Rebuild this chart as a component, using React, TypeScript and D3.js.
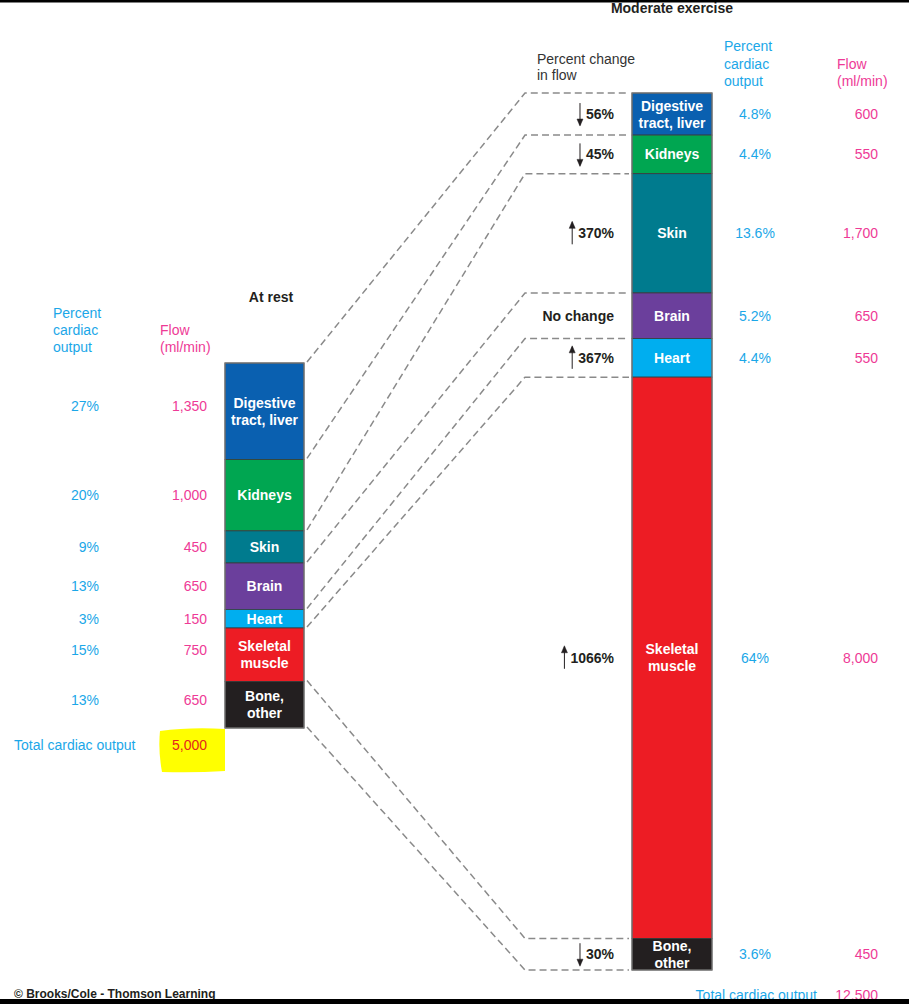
import React from "react";
import * as d3 from "d3";

// bar segments, top to bottom
const barLabels = [
  ["Digestive", "tract, liver"],
  ["Kidneys"],
  ["Skin"],
  ["Brain"],
  ["Heart"],
  ["Skeletal", "muscle"],
  ["Bone,", "other"],
];
const segmentColors = ["#0a60b0", "#00a651", "#007b8e", "#6b3f9c", "#00aeef", "#ed1c24", "#231f20"];

const restFlow = [1350, 1000, 450, 650, 150, 750, 650];
const restPercent = ["27%", "20%", "9%", "13%", "3%", "15%", "13%"];
const restTotal = 5000;

const exerciseFlow = [600, 550, 1700, 650, 550, 8000, 450];
const exercisePercent = ["4.8%", "4.4%", "13.6%", "5.2%", "4.4%", "64%", "3.6%"];
const exerciseTotal = 12500;

const changeText = ["56%", "45%", "370%", "No change", "367%", "1066%", "30%"];
const changeDir = [-1, -1, 1, 0, 1, 1, -1];

const BLUE = "#1ba7e8";
const PINK = "#ee3a96";
const FONT = "'Liberation Sans', Arial, Helvetica, sans-serif";
const fmt = d3.format(",");

// boundaries of a stacked bar; small segments get a minimum size so labels fit
function stackBounds(values: number[], minValue: number, range: [number, number]) {
  const shown = values.map((v) => Math.max(v, minValue));
  const cum = [0, ...Array.from(d3.cumsum(shown))];
  const y = d3.scaleLinear([0, cum[cum.length - 1]], range);
  return cum.map(y);
}

function boldWidth(s: string, fs: number) {
  let w = 0;
  for (const c of s) w += c === "%" ? 0.889 : 0.556;
  return w * fs;
}

function Bar({ x, w, bounds }: { x: number; w: number; bounds: number[] }) {
  return (
    <g>
      {bounds.slice(0, -1).map((b, i) => (
        <rect key={i} x={x} y={b} width={w} height={bounds[i + 1] - b} fill={segmentColors[i]} stroke="#3a3a3a" strokeWidth={0.8} />
      ))}
      <rect x={x} y={bounds[0]} width={w} height={bounds[bounds.length - 1] - bounds[0]} fill="none" stroke="#7a7a7a" strokeWidth={1.2} />
      {bounds.slice(0, -1).map((b, i) => {
        const cy = (b + bounds[i + 1]) / 2;
        const lines = barLabels[i];
        return (
          <text key={i} x={x + w / 2} textAnchor="middle" fill="#fff" fontWeight="bold" fontSize={14} fontFamily={FONT}>
            {lines.map((l, j) => (
              <tspan key={j} x={x + w / 2} y={cy + 5 + (j - (lines.length - 1) / 2) * 17}>{l}</tspan>
            ))}
          </text>
        );
      })}
    </g>
  );
}

export default function App() {
  const leftX = 225, leftW = 79;
  const rightX = 632, rightW = 80;
  const left = stackBounds(restFlow, 260, [363, 728]);
  const right = stackBounds(exerciseFlow, 0, [93, 970]);
  const mid = (b: number[], i: number) => (b[i] + b[i + 1]) / 2;

  return (
    <svg width={909} height={1004} style={{ position: "absolute", left: 0, top: 0, background: "#fff" }} fontFamily={FONT}>
      <rect x={0} y={0} width={909} height={1004} fill="#fff" />

      {/* connectors */}
      <g fill="none" stroke="#8a8a8a" strokeWidth={1.5} strokeDasharray="7 4">
        {left.map((ly, i) => (
          <path key={i} d={`M307,${ly - 1} L525,${right[i]} L629,${right[i]}`} />
        ))}
      </g>

      <Bar x={leftX} w={leftW} bounds={left} />
      <Bar x={rightX} w={rightW} bounds={right} />

      {/* at rest column */}
      <text x={271} y={302} textAnchor="middle" fontWeight="bold" fontSize={14} fill="#231f20">At rest</text>
      <text fill={BLUE} fontSize={14}>
        <tspan x={53} y={318}>Percent</tspan>
        <tspan x={53} y={335}>cardiac</tspan>
        <tspan x={53} y={352}>output</tspan>
      </text>
      <text fill={PINK} fontSize={14}>
        <tspan x={160} y={335}>Flow</tspan>
        <tspan x={160} y={352}>(ml/min)</tspan>
      </text>
      {restFlow.map((v, i) => {
        const cy = mid(left, i) - (barLabels[i].length > 1 ? 5 : 0) + 5;
        return (
          <g key={i} fontSize={14}>
            <text x={99} y={cy} textAnchor="end" fill={BLUE}>{restPercent[i]}</text>
            <text x={207} y={cy} textAnchor="end" fill={PINK}>{fmt(v)}</text>
          </g>
        );
      })}
      <path d="M160,731 Q190,727 225,729 L225,771 Q195,773 162,772 Q158,750 160,731 Z" fill="#ffff00" />
      <text x={14} y={750} fontSize={14} fill={BLUE}>Total cardiac output</text>
      <text x={207} y={750} fontSize={14} textAnchor="end" fill="#e4261c">{fmt(restTotal)}</text>

      {/* moderate exercise column */}
      <text x={672} y={13} textAnchor="middle" fontWeight="bold" fontSize={14} fill="#231f20">Moderate exercise</text>
      <text fill="#333" fontSize={14}>
        <tspan x={537} y={64}>Percent change</tspan>
        <tspan x={537} y={80}>in flow</tspan>
      </text>
      <text fill={BLUE} fontSize={14}>
        <tspan x={724} y={51}>Percent</tspan>
        <tspan x={724} y={69}>cardiac</tspan>
        <tspan x={724} y={86}>output</tspan>
      </text>
      <text fill={PINK} fontSize={14}>
        <tspan x={837} y={69}>Flow</tspan>
        <tspan x={837} y={86}>(ml/min)</tspan>
      </text>
      {exerciseFlow.map((v, i) => {
        const cy = mid(right, i);
        const tw = boldWidth(changeText[i], 14);
        const ax = 614 - tw - 6;
        return (
          <g key={i} fontSize={14}>
            <text x={614} y={cy + 5} textAnchor="end" fontWeight="bold" fill="#231f20">{changeText[i]}</text>
            {changeDir[i] !== 0 && (
              <g stroke="#231f20" fill="#231f20">
                <line x1={ax} x2={ax} y1={cy - 11} y2={cy + 11} strokeWidth={1} />
                <path
                  d={changeDir[i] < 0
                    ? `M${ax - 3},${cy + 5} L${ax},${cy + 12} L${ax + 3},${cy + 5} Z`
                    : `M${ax - 3},${cy - 5} L${ax},${cy - 12} L${ax + 3},${cy - 5} Z`}
                  strokeWidth={0.5}
                />
              </g>
            )}
            <text x={755} y={cy + 5} textAnchor="middle" fill={BLUE}>{exercisePercent[i]}</text>
            <text x={878} y={cy + 5} textAnchor="end" fill={PINK}>{fmt(v)}</text>
          </g>
        );
      })}
      <text x={817} y={1000} textAnchor="end" fontSize={14} fill={BLUE}>Total cardiac output</text>
      <text x={878} y={1000} textAnchor="end" fontSize={14} fill={PINK}>{fmt(exerciseTotal)}</text>

      <text x={14} y={998} fontSize={12} fontWeight="bold" fill="#231f20">© Brooks/Cole - Thomson Learning</text>

      {/* frame */}
      <rect x={0} y={0} width={909} height={2.5} fill="#000" />
      <rect x={0} y={999} width={909} height={5} fill="#000" />
    </svg>
  );
}
